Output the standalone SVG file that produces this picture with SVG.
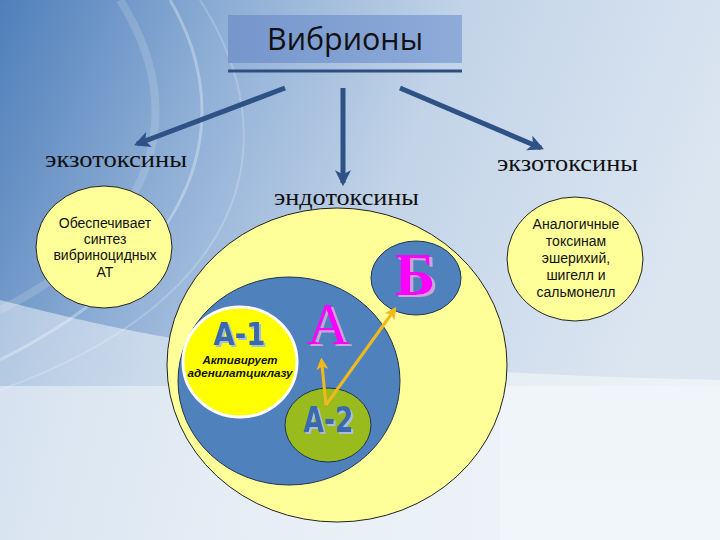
<svg xmlns="http://www.w3.org/2000/svg" width="720" height="540" viewBox="0 0 720 540">
<defs>
<linearGradient id="bg" x1="0" y1="0" x2="1" y2="0.3">
<stop offset="0" stop-color="#4F7FBA"/>
<stop offset="0.3" stop-color="#8FAFD6"/>
<stop offset="0.6" stop-color="#C3D4E8"/>
<stop offset="1" stop-color="#DCE6F1"/>
</linearGradient>
<linearGradient id="bottom" x1="0" y1="0" x2="0" y2="1">
<stop offset="0" stop-color="#EEF3F8"/>
<stop offset="1" stop-color="#F3F6FA"/>
</linearGradient>
<linearGradient id="leftbottom" x1="0" y1="0" x2="1" y2="0">
<stop offset="0" stop-color="#DCE6F1" stop-opacity="0.6"/>
<stop offset="1" stop-color="#EEF3F8" stop-opacity="1"/>
</linearGradient>
<linearGradient id="title" x1="0" y1="0" x2="1" y2="0">
<stop offset="0" stop-color="#7696CC"/>
<stop offset="1" stop-color="#8EABD9"/>
</linearGradient>
<filter id="sh" x="-20%" y="-20%" width="140%" height="140%">
<feOffset in="SourceAlpha" dx="2" dy="1.5" result="o"/>
<feFlood flood-color="#A9BDDD"/>
<feComposite in2="o" operator="in" result="s"/>
<feMerge><feMergeNode in="s"/><feMergeNode in="SourceGraphic"/></feMerge>
</filter>
<filter id="shm" x="-20%" y="-20%" width="140%" height="140%">
<feOffset in="SourceAlpha" dx="3" dy="2" result="o"/>
<feFlood flood-color="#C9A6D6"/>
<feComposite in2="o" operator="in" result="s"/>
<feMerge><feMergeNode in="s"/><feMergeNode in="SourceGraphic"/></feMerge>
</filter>
<marker id="ah" viewBox="0 0 10 10" refX="8" refY="5" markerWidth="3.2" markerHeight="3.2" orient="auto" markerUnits="strokeWidth">
<path d="M0,0 L10,5 L0,10 L2.5,5 Z" fill="#2E5286"/>
</marker>
<marker id="ay" viewBox="0 0 10 10" refX="8" refY="5" markerWidth="4" markerHeight="4" orient="auto" markerUnits="strokeWidth">
<path d="M0,0 L10,5 L0,10 L2.5,5 Z" fill="#F2B91E"/>
</marker>
</defs>
<style>
.serif{font-family:"Liberation Serif","DejaVu Serif",serif;fill:#111;font-size:24px}
.sans{font-family:"Liberation Sans",Arial,sans-serif;fill:#111;font-size:14px;text-anchor:middle}
.cond{font-family:"DejaVu Sans Condensed","DejaVu Sans",sans-serif;font-weight:bold;fill:#3A69AE;text-anchor:middle;filter:url(#sh)}
.mag{font-family:"Liberation Serif",serif;fill:#FF00FF;text-anchor:middle;filter:url(#shm)}
.ital{font-family:"Liberation Sans",Arial,sans-serif;font-size:11.5px;font-weight:bold;font-style:italic;fill:#111;text-anchor:middle}
.conn{stroke:#2E5286;stroke-width:5;fill:none;marker-end:url(#ah)}
.yconn{stroke:#F2B91E;stroke-width:3;fill:none;marker-end:url(#ay)}
</style>
<!-- background -->
<rect x="0" y="0" width="720" height="540" fill="url(#bg)"/>
<path d="M0,300 C120,330 260,370 720,380 L720,540 L0,540 Z" fill="url(#leftbottom)"/>
<rect x="500" y="386" width="220" height="154" fill="url(#bottom)"/>
<path d="M0,386 L720,386 L720,540 L0,540 Z" fill="#F1F5F9" opacity="0.55"/>
<path d="M170,0 C240,120 200,260 0,360" stroke="#FFFFFF" stroke-opacity="0.3" stroke-width="3" fill="none"/>
<path d="M120,0 C190,110 160,230 0,310" stroke="#FFFFFF" stroke-opacity="0.15" stroke-width="8" fill="none"/>
<path d="M200,0 C290,140 250,300 0,390" stroke="#FFFFFF" stroke-opacity="0.2" stroke-width="2" fill="none"/>

<g id="title-node">
<rect x="228" y="15" width="234" height="48" fill="url(#title)"/>
<text x="345" y="50" font-family="'Open Sans','Noto Sans',sans-serif" font-size="31" fill="#111" text-anchor="middle" textLength="156" lengthAdjust="spacingAndGlyphs">Вибрионы</text>
<rect x="228" y="69.5" width="234" height="3" fill="#2D4F7F"/>
</g>

<g id="connectors">
<line class="conn" x1="285" y1="88" x2="137" y2="144"/>
<line class="conn" x1="343" y1="88" x2="343" y2="183"/>
<line class="conn" x1="400" y1="88" x2="541" y2="148"/>
</g>

<g id="exo-left">
<text class="serif" x="45" y="167" textLength="142" lengthAdjust="spacingAndGlyphs">экзотоксины</text>
</g>
<g id="exo-right">
<text class="serif" x="497" y="171" textLength="141" lengthAdjust="spacingAndGlyphs">экзотоксины</text>
</g>
<g id="endo">
<text class="serif" x="274" y="205" textLength="145" lengthAdjust="spacingAndGlyphs">эндотоксины</text>
</g>

<g id="left-ellipse">
<ellipse cx="104" cy="247" rx="68" ry="61" fill="#FFFF99" stroke="#222" stroke-width="1"/>
<text class="sans" x="105" y="228">Обеспечивает</text>
<text class="sans" x="105" y="244">синтез</text>
<text class="sans" x="105" y="260">вибриноцидных</text>
<text class="sans" x="105" y="277">АТ</text>
</g>

<g id="right-ellipse">
<ellipse cx="575" cy="259" rx="68" ry="62" fill="#FFFF99" stroke="#222" stroke-width="1"/>
<text class="sans" x="576" y="229">Аналогичные</text>
<text class="sans" x="576" y="246">токсинам</text>
<text class="sans" x="576" y="263">эшерихий,</text>
<text class="sans" x="576" y="280">шигелл и</text>
<text class="sans" x="576" y="297">сальмонелл</text>
</g>

<g id="endo-ellipse">
<ellipse cx="337" cy="365" rx="170" ry="157" fill="#FFFF99" stroke="#222" stroke-width="1"/>
</g>

<g id="node-A">
<ellipse cx="289" cy="381" rx="111" ry="104" fill="#4F81BD" stroke="#1F3550" stroke-width="1"/>
<text class="mag" x="328" y="344" font-size="59">А</text>
</g>

<g id="node-B">
<ellipse cx="416" cy="278" rx="45" ry="37" fill="#4F81BD" stroke="#1F3550" stroke-width="1"/>
<text class="mag" x="415" y="295" font-size="62" font-weight="bold">Б</text>
</g>

<g id="node-A1">
<ellipse cx="240" cy="362" rx="57" ry="55" fill="#FFFF00" stroke="#FFFFFF" stroke-width="3"/>
<text class="cond" x="239.5" y="345" font-size="32" textLength="52" lengthAdjust="spacingAndGlyphs">А-1</text>
<text class="ital" x="240" y="364" textLength="75" lengthAdjust="spacingAndGlyphs">Активирует</text>
<text class="ital" x="240" y="377" textLength="105" lengthAdjust="spacingAndGlyphs">аденилатциклазу</text>
</g>

<g id="node-A2">
<ellipse cx="328" cy="425" rx="43" ry="37" fill="#99BB1E" stroke="#1F3550" stroke-width="1"/>
<text class="cond" x="328.5" y="432" font-size="36" textLength="50" lengthAdjust="spacingAndGlyphs">А-2</text>
</g>

<g id="yellow-connectors">
<line class="yconn" x1="326" y1="405" x2="321.5" y2="360"/>
<line class="yconn" x1="326" y1="405" x2="395" y2="309"/>
</g>
</svg>
